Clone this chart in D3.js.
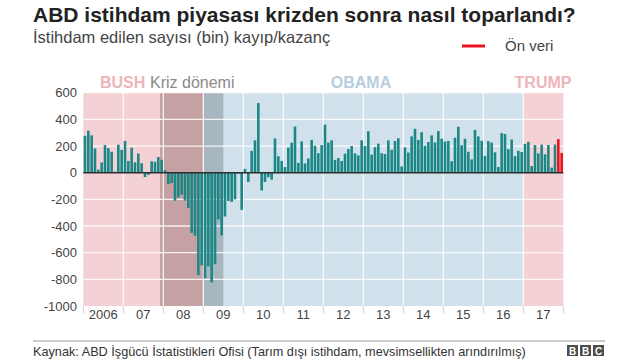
<!DOCTYPE html>
<html><head><meta charset="utf-8">
<script src="https://cdn.jsdelivr.net/npm/d3@7"></script>
<style>
html,body{margin:0;padding:0;background:#fff;}
svg{display:block;font-family:"Liberation Sans",Arial,sans-serif;}
</style></head>
<body><svg id="c" width="640" height="360"></svg>
<script>
// ---- data ----
const yearLabels = ["2006","07","08","09","10","11","12","13","14","15","16","17"];
const jobs2006 = [277, 315, 280, 182, 23, 77, 207, 184, 157, 8, 210, 171];
const jobs2007 = [238, 88, 188, 78, 144, 71, -33, -16, 85, 82, 118, 97];
const jobs2008 = [19, -86, -78, -210, -185, -165, -209, -266, -452, -473, -769, -695];
const jobs2009 = [-791, -703, -823, -686, -351, -470, -329, -212, -219, -200, -7, -279];
const jobs2010 = [28, -69, 163, 243, 522, -133, -70, -34, -52, 257, 123, 88];
const jobs2011 = [42, 188, 225, 346, 73, 235, 70, 107, 246, 202, 146, 207];
const jobs2012 = [360, 226, 243, 96, 110, 88, 143, 177, 200, 145, 130, 243];
const jobs2013 = [200, 311, 135, 192, 218, 146, 140, 242, 171, 237, 258, 47];
const jobs2014 = [190, 151, 272, 329, 246, 304, 202, 230, 280, 227, 312, 255];
const jobs2015 = [234, 238, 86, 262, 344, 206, 254, 157, 100, 321, 272, 239];
const jobs2016 = [126, 237, 225, 153, 43, 297, 291, 176, 249, 124, 164, 155];
const jobs2017 = [216, 232, 50, 207, 145, 210, 138, 208, 38, 211, 252, 148];
const preliminaryMonths = 2; // last months shown as "Ön veri"
const yTicks = [-1000, -800, -600, -400, -200, 0, 200, 400, 600];
// periods: label, start month index, end month index
const presidents = [
  {name:"BUSH",  start:0,   end:36,  fill:"#f4d1d4", text:"#efb4b9"},
  {name:"OBAMA", start:36,  end:132, fill:"#d0e1eb", text:"#b7cddd"},
  {name:"TRUMP", start:132, end:144, fill:"#f4d1d4", text:"#efb4b9"}
];
const crisis = [
  {start:23, end:36, fill:"#c6a1a4"},
  {start:36, end:42, fill:"#a7b6bf"}
];

const allJobs = [].concat(jobs2006, jobs2007, jobs2008, jobs2009, jobs2010, jobs2011,
  jobs2012, jobs2013, jobs2014, jobs2015, jobs2016, jobs2017);
const monthIdx = allJobs.map((d,i)=>i);

// ---- layout ----
const svg = d3.select("#c");
const L = 83.33, R = 563.33, T = 92.7, B = 306;
const x = d3.scaleBand().domain(monthIdx).range([L, R]).paddingInner(0.22).paddingOuter(0.11);
const xs = d3.scaleLinear().domain([0, allJobs.length]).range([L, R]);
const y = d3.scaleLinear().domain([-1000, 600]).range([B, T]);

// backgrounds
svg.append("g").selectAll("rect").data(presidents).join("rect")
  .attr("x", d=>xs(d.start)).attr("width", d=>xs(d.end)-xs(d.start))
  .attr("y", T).attr("height", B-T).attr("fill", d=>d.fill);
svg.append("g").selectAll("rect").data(crisis).join("rect")
  .attr("x", d=>xs(d.start)).attr("width", d=>xs(d.end)-xs(d.start))
  .attr("y", T).attr("height", B-T).attr("fill", d=>d.fill);

// grid
const grid = svg.append("g").attr("stroke", "#fff").attr("stroke-opacity", 0.85).attr("stroke-width", 1.3);
grid.selectAll("line.h").data(yTicks.filter(v=>v!==-1000 && v!==0)).join("line")
  .attr("x1", L).attr("x2", R).attr("y1", d=>y(d)).attr("y2", d=>y(d));
const yearBounds = d3.range(1, yearLabels.length).map(i=>i*12);
grid.selectAll("line.v").data(yearBounds).join("line")
  .attr("x1", d=>xs(d)).attr("x2", d=>xs(d)).attr("y1", T).attr("y2", B);

// year ticks below
svg.append("g").attr("stroke", "#d0d0d0").attr("stroke-width", 1)
  .selectAll("line").data(d3.range(0, yearLabels.length+1).map(i=>i*12)).join("line")
  .attr("x1", d=>xs(d)).attr("x2", d=>xs(d)).attr("y1", B).attr("y2", B+7);

// bars
const n = allJobs.length;
svg.append("g").selectAll("rect").data(allJobs).join("rect")
  .attr("x", (d,i)=>x(i)).attr("width", x.bandwidth())
  .attr("y", d=>y(Math.max(0,d))).attr("height", d=>Math.abs(y(d)-y(0)))
  .attr("fill", (d,i)=> i >= n - preliminaryMonths ? "#e8141f" : "#1c8886");

// zero line
svg.append("line").attr("x1", L).attr("x2", R).attr("y1", y(0)).attr("y2", y(0))
  .attr("stroke", "#2f2f2f").attr("stroke-width", 1.5);

// y axis labels
svg.append("g").selectAll("text").data(yTicks).join("text")
  .attr("x", 77).attr("y", d=>y(d)).attr("dy", "0.36em")
  .attr("text-anchor", "end").attr("font-size", 13).attr("fill", "#444")
  .text(d=>d);

// x labels
svg.append("g").selectAll("text").data(yearLabels).join("text")
  .attr("x", (d,i)=>xs(i*12+6)).attr("y", 319)
  .attr("text-anchor", "middle").attr("font-size", 13).attr("fill", "#444")
  .text(d=>d);

// period labels
svg.append("text").attr("x", 100).attr("y", 88).attr("font-size", 16).attr("font-weight", "bold")
  .attr("fill", presidents[0].text).text(presidents[0].name);
svg.append("text").attr("x", 150).attr("y", 88).attr("font-size", 16).attr("fill", "#8a8a8a").text("Kriz dönemi");
svg.append("text").attr("x", 361).attr("y", 88).attr("text-anchor", "middle").attr("font-size", 16).attr("font-weight", "bold")
  .attr("fill", presidents[1].text).text(presidents[1].name);
svg.append("text").attr("x", 543).attr("y", 88).attr("text-anchor", "middle").attr("font-size", 16).attr("font-weight", "bold")
  .attr("fill", presidents[2].text).text(presidents[2].name);

// title
svg.append("text").attr("x", 33).attr("y", 22).attr("font-size", 21).attr("font-weight", "bold")
  .attr("fill", "#222").text("ABD istihdam piyasası krizden sonra nasıl toparlandı?");
svg.append("text").attr("x", 33).attr("y", 43).attr("font-size", 16.5).attr("fill", "#444")
  .text("İstihdam edilen sayısı (bin) kayıp/kazanç");

// legend
svg.append("line").attr("x1", 462).attr("x2", 485).attr("y1", 46).attr("y2", 46)
  .attr("stroke", "#e8141f").attr("stroke-width", 3);
svg.append("text").attr("x", 505).attr("y", 51).attr("font-size", 15).attr("fill", "#444").text("Ön veri");

// footer
svg.append("line").attr("x1", 33).attr("x2", 605).attr("y1", 341).attr("y2", 341)
  .attr("stroke", "#999").attr("stroke-width", 1);
svg.append("text").attr("x", 33).attr("y", 356).attr("font-size", 12.7).attr("fill", "#333")
  .text("Kaynak: ABD İşgücü İstatistikleri Ofisi (Tarım dışı istihdam, mevsimsellikten arındırılmış)");
const bbc = svg.append("g");
["B","B","C"].forEach((c,i)=>{
  bbc.append("rect").attr("x", 567+i*13).attr("y", 345).attr("width", 11).attr("height", 11).attr("fill", "#4d4d4d");
  bbc.append("text").attr("x", 567+i*13+5.5).attr("y", 354.5).attr("text-anchor","middle")
    .attr("font-size", 10).attr("font-weight","bold").attr("fill","#fff").text(c);
});
</script></body></html>
